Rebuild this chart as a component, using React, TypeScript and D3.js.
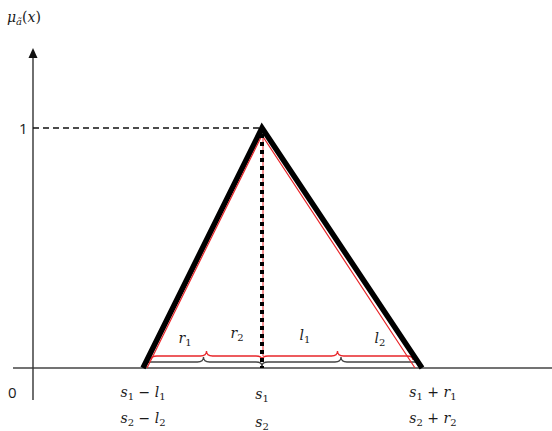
import React from 'react';
import * as d3 from 'd3';

// fuzzy numbers, x in arbitrary units, y = membership
const blackTri = [
  { x: 2.2, y: 0 },
  { x: 4.58, y: 1 },
  { x: 7.78, y: 0 },
];
const redTri = [
  { x: 2.28, y: 0 },
  { x: 4.58, y: 0.97 },
  { x: 7.64, y: 0 },
];
// brace spans [from, to] and the membership level they sit at
const blackBraces = [[2.24, 4.58], [4.58, 7.74]];
const blackBraceLevel = 0.025;
const redBraces = [[2.36, 4.58], [4.58, 7.6]];
const redBraceLevel = 0.05;

const braceLabels = [
  { name: 'r', sub: '1', x: 3.04, y: 0.105 },
  { name: 'r', sub: '2', x: 4.08, y: 0.125 },
  { name: 'l', sub: '1', x: 5.44, y: 0.115 },
  { name: 'l', sub: '2', x: 6.94, y: 0.105 },
];

const tickPos = [2.2, 4.58, 8.0];
const tickRow1 = [
  [['s', '1'], [' − ', ''], ['l', '1']],
  [['s', '1']],
  [['s', '1'], [' + ', ''], ['r', '1']],
];
const tickRow2 = [
  [['s', '2'], [' − ', ''], ['l', '2']],
  [['s', '2']],
  [['s', '2'], [' + ', ''], ['r', '2']],
];

const W = 552;
const H = 431;
const mathFont = '"DejaVu Serif", serif';
const textColor = '#1a1a1a';

// label made of [letter, subscript] pieces
const Sub = ({ parts, x, y, anchor = 'middle' }) => {
  const spans = [];
  let lowered = false;
  parts.forEach((p, i) => {
    spans.push(
      <tspan key={'m' + i} dy={lowered ? -3 : 0} fontStyle={p[1] === '' ? 'normal' : 'italic'}>{p[0]}</tspan>
    );
    lowered = false;
    if (p[1] !== '') {
      spans.push(
        <tspan key={'s' + i} fontSize={10} dy={3} fontStyle="normal">{p[1]}</tspan>
      );
      lowered = true;
    }
  });
  return (
    <text x={x} y={y} textAnchor={anchor} fontFamily={mathFont} fontSize={14} fill={textColor}>
      {spans}
    </text>
  );
};

const bracePath = (x0, x1, y) => {
  const xm = (x0 + x1) / 2;
  const c = 6;
  return `M${x0},${y + 4} Q${x0},${y} ${x0 + c},${y} L${xm - c},${y} Q${xm},${y} ${xm},${y - 5} Q${xm},${y} ${xm + c},${y} L${x1 - c},${y} Q${x1},${y} ${x1},${y + 4}`;
};

const App = () => {
  const x = d3.scaleLinear().domain([0, 10]).range([33, 533]);
  const y = d3.scaleLinear().domain([0, 1]).range([368, 128]);

  const line = d3.line().x((d) => x(d.x)).y((d) => y(d.y));

  const apex = blackTri[1];
  const redApex = redTri[1];

  return (
    <svg width={W} height={H} style={{ position: 'absolute', left: 0, top: 0, background: '#fff' }}>
      {/* y label */}
      <text x={7} y={22} fontFamily={mathFont} fontSize={14} fill={textColor}>
        <tspan fontStyle="italic">μ</tspan>
        <tspan fontSize={10} dy={3} fontStyle="italic">ã</tspan>
        <tspan dy={-3}>(</tspan>
        <tspan fontStyle="italic">x</tspan>
        <tspan>)</tspan>
      </text>

      {/* axes */}
      <line x1={13} x2={W} y1={y(0)} y2={y(0)} stroke="#444" strokeWidth={1.4} />
      <line x1={x(0)} x2={x(0)} y1={400} y2={56} stroke="#333" strokeWidth={1.4} />
      <path d={`M${x(0)},48 L${x(0) - 4.5},58 L${x(0) + 4.5},58 Z`} fill="#111" />
      <text x={19} y={134} fontFamily='"Open Sans", sans-serif' fontSize={15} fill={textColor}>1</text>
      <text x={8} y={398} fontFamily='"Open Sans", sans-serif' fontSize={15} fill={textColor}>0</text>

      {/* dashed level 1 */}
      <line x1={x(0)} x2={x(apex.x)} y1={y(1)} y2={y(1)} stroke="#111" strokeWidth={1.5} strokeDasharray="6,4" />

      {/* red vertical under the dotted line */}
      <line x1={x(redApex.x) + 1} x2={x(redApex.x) + 1} y1={y(redApex.y)} y2={y(redBraceLevel)} stroke="#e8262a" strokeWidth={1} />

      {/* braces */}
      {blackBraces.map((b, i) => (
        <path key={'bb' + i} d={bracePath(x(b[0]), x(b[1]), y(blackBraceLevel))} fill="none" stroke="#444" strokeWidth={1.3} />
      ))}
      {redBraces.map((b, i) => (
        <path key={'rb' + i} d={bracePath(x(b[0]), x(b[1]), y(redBraceLevel))} fill="none" stroke="#e8262a" strokeWidth={1.3} />
      ))}

      {/* triangles */}
      <path d={line(blackTri)} fill="none" stroke="#000" strokeWidth={5.5} strokeLinejoin="miter" />
      <path d={line(redTri)} fill="none" stroke="#e8262a" strokeWidth={1.2} />

      {/* dotted center line */}
      <line x1={x(apex.x)} x2={x(apex.x)} y1={y(apex.y) + 6} y2={y(0)} stroke="#000" strokeWidth={4} strokeDasharray="4,4" />

      {braceLabels.map((d, i) => (
        <Sub key={'bl' + i} parts={[[d.name, d.sub]]} x={x(d.x)} y={y(d.y)} />
      ))}

      {tickPos.map((t, i) => (
        <Sub key={'t1' + i} parts={tickRow1[i]} x={x(t)} y={i === 1 ? 399 : 397} />
      ))}
      {tickPos.map((t, i) => (
        <Sub key={'t2' + i} parts={tickRow2[i]} x={x(t)} y={i === 1 ? 427 : 423} />
      ))}
    </svg>
  );
};

export default App;
